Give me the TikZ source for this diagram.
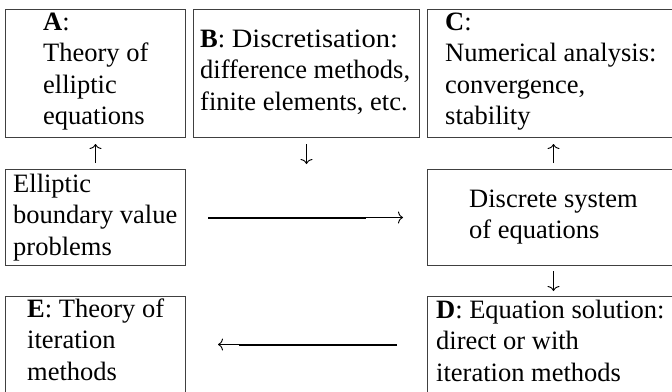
\documentclass[tikz,border=0pt]{standalone}
\usepackage{fontspec}
\usepackage{graphicx}
\setmainfont{Liberation Serif}
\usetikzlibrary{arrows.meta}
\begin{document}
\begin{tikzpicture}[x=1pt,y=-1pt,
  box/.style={draw=black!75, line width=1pt, rectangle, inner sep=0pt, anchor=north west},
  toprow/.style={box, minimum width=180pt, minimum height=128pt},
  midrow/.style={box, minimum height=96pt},
  txt/.style={anchor=base west, inner sep=0pt, font=\fontsize{26.5}{31.5}\selectfont},
  thinarrow/.style={line width=0.9pt, -{To[length=5pt,width=12pt]}},
  thickline/.style={line width=2pt}]
\useasboundingbox (0,0) rectangle (672,391);
\begin{scope}
\clip (0,0) rectangle (672,391);
% boxes
\node[toprow] (A) at (5,9) {};
\node[toprow, minimum width=226pt] (B) at (193,9) {};
\node[toprow, minimum width=252pt] (C) at (427,9) {};
\node[midrow, minimum width=180pt] (Ell) at (5,169) {};
\node[midrow, minimum width=252pt] (Disc) at (427,169) {};
\node[midrow, minimum width=180pt] (E) at (5,296) {};
\node[midrow, minimum width=252pt] (D) at (427,296) {};
% texts
\node[txt] (tA) at (43,30) {\parbox[t]{200pt}{\textbf{A}:\\Theory of\\elliptic\\equations}};
\node[txt] (tB) at (200,47) {\parbox[t]{260pt}{\textbf{B}: \scalebox{1.075}[1]{Discretisation:}\\difference methods,\\finite elements, etc.}};
\node[txt] (tC) at (445,30) {\parbox[t]{260pt}{\textbf{C}:\\Numerical analysis:\\convergence,\\stability}};
\node[txt] (tEll) at (13,192) {\parbox[t]{260pt}{Elliptic\\boundary value\\problems}};
\node[txt] (tDisc) at (469,207) {\parbox[t]{260pt}{Discrete system\\of equations}};
\node[txt] (tE) at (27,317) {\parbox[t]{260pt}{\textbf{E}: Theory of\\iteration\\methods}};
\node[txt] (tD) at (436,318) {\parbox[t]{300pt}{\textbf{D}: Equation solution:\\direct or with\\iteration methods}};
% arrows
\draw[thinarrow, shorten <=6pt, shorten >=6pt] (Ell.north) -- (A.south);
\draw[thinarrow, shorten <=6pt, shorten >=6pt] (B.south) -- ++(0,32);
\draw[thinarrow, shorten <=6pt, shorten >=6pt] (Disc.north) -- (C.south);
\draw[thinarrow, shorten <=5pt, shorten >=5pt] (Disc.south) -- (D.north);
\draw[thickline] ([xshift=22pt]Ell.east) -- ([xshift=-61pt]Disc.west);
\draw[thinarrow] ([xshift=-61pt]Disc.west) -- ([xshift=-24pt]Disc.west);
\draw[thickline] ([xshift=-30pt]D.west) -- ([xshift=53pt]E.east);
\draw[thinarrow] ([xshift=53pt]E.east) -- ([xshift=32pt]E.east);
\end{scope}
\end{tikzpicture}
\end{document}
